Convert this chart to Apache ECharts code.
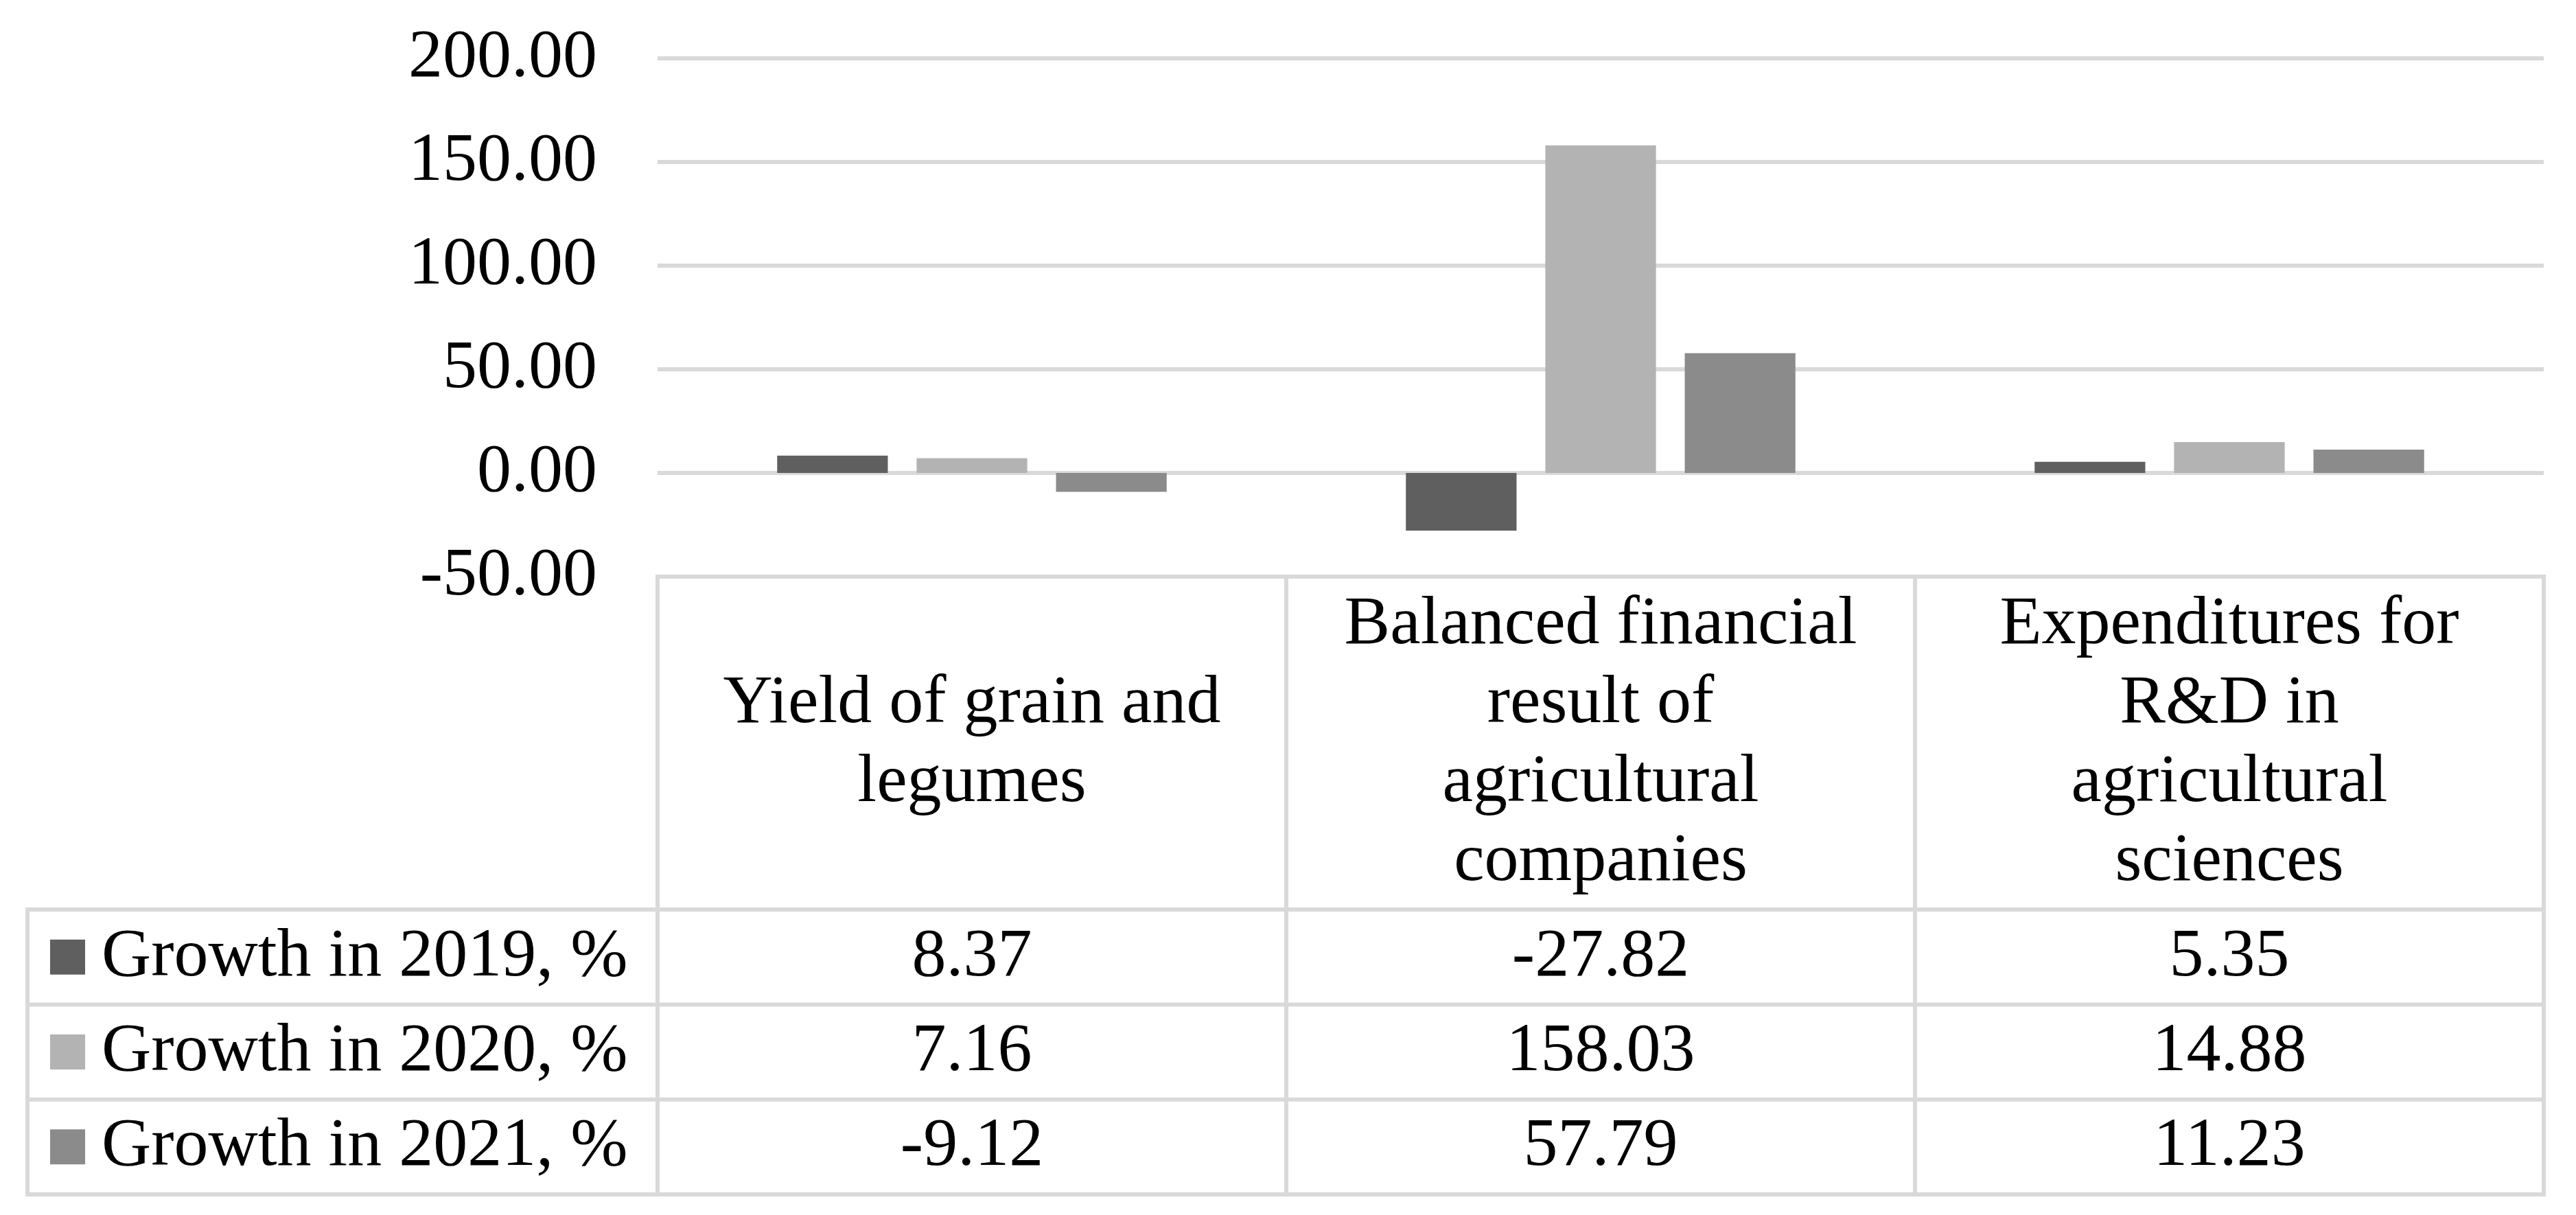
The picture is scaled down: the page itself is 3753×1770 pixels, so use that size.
<!DOCTYPE html>
<html><head><meta charset="utf-8">
<script src="https://cdn.jsdelivr.net/npm/echarts@6/dist/echarts.min.js"></script>
<style>html,body{margin:0;padding:0;background:#fff}#c{width:3753px;height:1770px}</style>
</head><body><div id="c"></div>
<script>
const categories = ['Yield of grain and legumes', 'Balanced financial result of agricultural companies', 'Expenditures for R&D in agricultural sciences'];
const seriesNames = ['Growth in 2019, %', 'Growth in 2020, %', 'Growth in 2021, %'];
const growth2019 = [8.37, -27.82, 5.35];
const growth2020 = [7.16, 158.03, 14.88];
const growth2021 = [-9.12, 57.79, 11.23];
const yTicks = [-50, 0, 50, 100, 150, 200];

const colors = ['#5f5f5f', '#b3b3b3', '#8b8b8b'];
const FONT = "'Liberation Serif','Times New Roman',serif";
const seriesData = [growth2019, growth2020, growth2021];

// word wrap (break only at spaces)
const measureCtx = document.createElement('canvas').getContext('2d');
function wrapWords(text, maxW, font) {
  measureCtx.font = font;
  const words = text.split(' ');
  const lines = [];
  let cur = '';
  words.forEach(w => {
    const t = cur ? cur + ' ' + w : w;
    if (cur && measureCtx.measureText(t).width > maxW) { lines.push(cur); cur = w; }
    else cur = t;
  });
  if (cur) lines.push(cur);
  return lines.join('\n');
}

const chart = echarts.init(document.getElementById('c'), null, {renderer: 'canvas'});
const gridL = 958, gridR = 47, gridT = 85, gridB = 930;
chart.setOption({
  animation: false,
  backgroundColor: '#fff',
  textStyle: {fontFamily: FONT},
  legend: {show: false},
  grid: {left: gridL, right: gridR, top: gridT, bottom: gridB, containLabel: false, outerBoundsMode: 'none'},
  xAxis: {
    type: 'category', data: categories,
    axisLine: {show: false}, axisTick: {show: false}, splitLine: {show: false},
    axisLabel: {interval: 0, margin: 243, verticalAlign: 'middle', align: 'center',
      fontFamily: FONT, fontSize: 100, lineHeight: 115, color: '#000',
      formatter: v => wrapWords(v, 780, '100px ' + FONT)}
  },
  yAxis: {
    type: 'value', min: yTicks[0], max: yTicks[yTicks.length - 1], interval: yTicks[1] - yTicks[0],
    axisLine: {show: false}, axisTick: {show: false},
    splitLine: {lineStyle: {color: '#d9d9d9', width: 6}},
    axisLabel: {margin: 88, fontFamily: FONT, fontSize: 100, color: '#000', formatter: v => v.toFixed(2)}
  },
  series: seriesNames.map((n, i) => ({
    name: n, type: 'bar', data: seriesData[i], barWidth: '17.6%', barGap: '26%',
    itemStyle: {color: colors[i]}
  }))
});

// Data table below the plot
const W = chart.getWidth();
const xL = gridL, xR = W - gridR;
const colW = (xR - xL) / categories.length;
const yTop = chart.convertToPixel({yAxisIndex: 0}, yTicks[0]);
const tableBottom = 1740, rowH = 138.3, tableLeft = 40;
const rowTop = r => tableBottom - (seriesNames.length - r) * rowH;
const lineStyle = {stroke: '#d9d9d9', lineWidth: 6};
const els = [];
const line = (x1, y1, x2, y2) => els.push({type: 'line', silent: true, shape: {x1, y1, x2, y2}, style: lineStyle, z: 10});
line(xL - 3, yTop, xR + 3, yTop);
for (let r = 0; r <= seriesNames.length; r++) line(tableLeft - 3, rowTop(r), xR + 3, rowTop(r));
line(tableLeft, rowTop(0), tableLeft, tableBottom);
for (let c = 0; c <= categories.length; c++) {
  const x = chart.convertToPixel({xAxisIndex: 0}, categories[Math.min(c, categories.length - 1)]) + (c < categories.length ? -colW / 2 : colW / 2);
  line(x, yTop, x, tableBottom);
}
seriesNames.forEach((name, r) => {
  const cy = rowTop(r) + rowH / 2;
  els.push({type: 'rect', silent: true, shape: {x: 73, y: cy - 25.5, width: 51, height: 51}, style: {fill: colors[r]}, z: 11});
  els.push({type: 'text', silent: true, z: 11, style: {text: name, x: 148, y: cy, font: '100px ' + FONT, fill: '#000',
    textAlign: 'left', textVerticalAlign: 'middle', align: 'left', verticalAlign: 'middle'}});
  categories.forEach((cat, c) => {
    const cx = chart.convertToPixel({xAxisIndex: 0}, cat);
    els.push({type: 'text', silent: true, z: 11, style: {text: seriesData[r][c].toFixed(2), x: cx, y: cy, font: '100px ' + FONT, fill: '#000',
      textAlign: 'center', textVerticalAlign: 'middle', align: 'center', verticalAlign: 'middle'}});
  });
});
chart.setOption({graphic: {elements: els}});
</script>
</body></html>
